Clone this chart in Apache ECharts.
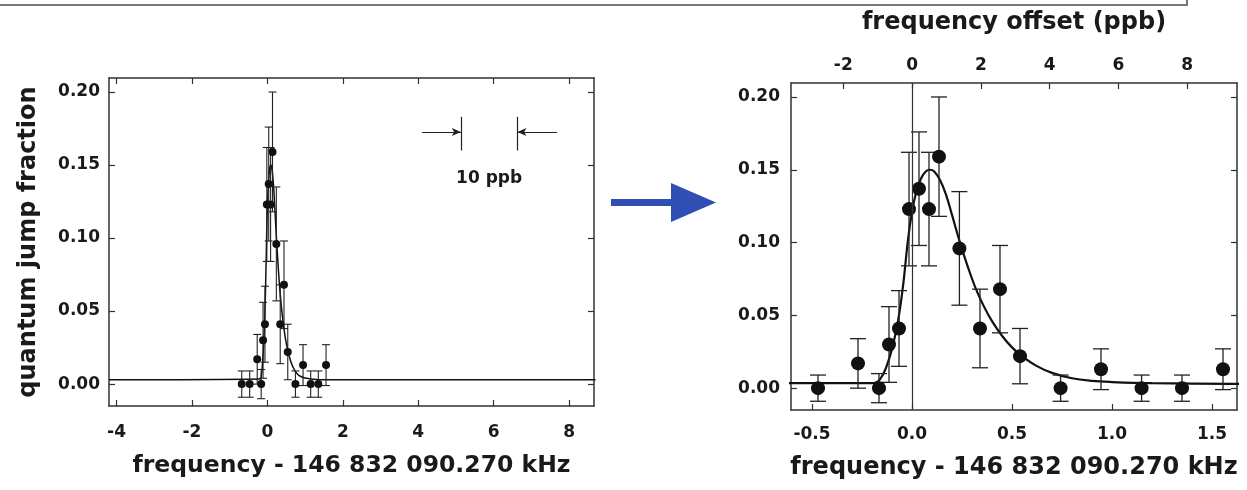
<!DOCTYPE html>
<html>
<head>
<meta charset="utf-8">
<script src="https://cdn.jsdelivr.net/npm/echarts@6/dist/echarts.min.js"></script>
<style>
html,body{margin:0;padding:0;background:#fff;}
#chart{width:1247px;height:490px;}
</style>
</head>
<body>
<div id="chart"></div>
<script>
// ---- data (kHz offset from 146 832 090.270 kHz) ----
const freq = [-0.68, -0.47, -0.27, -0.165, -0.115, -0.065, -0.015, 0.035, 0.085, 0.135, 0.237, 0.34, 0.44, 0.54, 0.743, 0.945, 1.148, 1.35, 1.555];
const frac = [0, 0, 0.017, 0, 0.030, 0.041, 0.123, 0.137, 0.123, 0.159, 0.096, 0.041, 0.068, 0.022, 0, 0.013, 0, 0, 0.013];
const errs = [0.009, 0.009, 0.017, 0.010, 0.026, 0.026, 0.039, 0.039, 0.039, 0.041, 0.039, 0.027, 0.030, 0.019, 0.009, 0.014, 0.009, 0.009, 0.014];
// fitted line shape
const fitX = [-4.2, -0.19, -0.16, -0.13, -0.10, -0.07, -0.045, -0.02, 0.0, 0.02, 0.045, 0.07, 0.09, 0.11, 0.14, 0.17, 0.20, 0.24, 0.28, 0.32, 0.36, 0.40, 0.45, 0.50, 0.55, 0.62, 0.70, 0.80, 0.90, 1.0, 1.2, 1.6, 8.7];
const fitY = [0.003, 0.0035, 0.006, 0.014, 0.027, 0.046, 0.070, 0.102, 0.121, 0.134, 0.144, 0.149, 0.150, 0.149, 0.143, 0.133, 0.119, 0.100, 0.083, 0.068, 0.056, 0.046, 0.036, 0.028, 0.022, 0.0155, 0.0105, 0.0068, 0.005, 0.0042, 0.0034, 0.003, 0.003];
// tick labels
const yTicks = [0, 0.05, 0.10, 0.15, 0.20];
const xTicksWide = [-4, -2, 0, 2, 4, 6, 8];
const xTicksZoom = [-0.5, 0, 0.5, 1.0, 1.5];
const ppbTicks = [-2, 0, 2, 4, 6, 8];
// annotation "10 ppb" (in left-panel kHz units)
const scaleBarX = [5.13, 6.63];
const scaleBarLabel = '10 ppb';

const TXT = '#1a1a1a', AX = '#2b3338';
const FONT = 'DejaVu Sans';

const pts = freq.map((f, i) => [f, frac[i]]);
const errData = freq.map((f, i) => [f, frac[i] - errs[i], frac[i] + errs[i]]);
const fitData = fitX.map((x, i) => [x, fitY[i]]);

function errRender(capW, lw) {
  return function (params, api) {
    const x = api.value(0), lo = api.value(1), hi = api.value(2);
    const a = api.coord([x, lo]), b = api.coord([x, hi]);
    const h = capW / 2;
    const st = { stroke: '#222', lineWidth: lw };
    return {
      type: 'group', children: [
        { type: 'line', shape: { x1: a[0], y1: a[1], x2: b[0], y2: b[1] }, style: st },
        { type: 'line', shape: { x1: b[0] - h, y1: b[1], x2: b[0] + h, y2: b[1] }, style: st },
        { type: 'line', shape: { x1: a[0] - h, y1: a[1], x2: a[0] + h, y2: a[1] }, style: st }
      ]
    };
  };
}

function baseAxis(extra) {
  return Object.assign({
    type: 'value',
    axisLine: { show: true, onZero: false, lineStyle: { color: AX, width: 1.5 } },
    axisTick: { show: true, inside: true, length: 6, lineStyle: { color: AX, width: 1.2 } },
    splitLine: { show: false },
    axisLabel: { show: false }
  }, extra);
}
function lbl(vals, dec, size, margin) {
  return {
    show: true, customValues: vals, margin: margin, color: TXT,
    fontFamily: FONT, fontWeight: 'bold', fontSize: size,
    formatter: v => dec == null ? String(v) : Number(v).toFixed(dec)
  };
}
function tk(vals) {
  return { show: true, inside: true, length: 6, customValues: vals, lineStyle: { color: AX, width: 1.2 } };
}
const titleStyle = { color: TXT, fontFamily: FONT, fontWeight: 'bold', fontSize: 24 };

const yMin = -0.015, yMax = 0.2096;

const option = {
  backgroundColor: '#fff',
  animation: false,
  grid: [
    { left: 109, top: 78, width: 485, height: 328 },
    { left: 791, top: 83, width: 446, height: 327 }
  ],
  xAxis: [
    baseAxis({ gridIndex: 0, position: 'bottom', min: -4.2, max: 8.66,
      axisLabel: lbl(xTicksWide, null, 17, 18), axisTick: tk(xTicksWide),
      name: 'frequency - 146 832 090.270 kHz', nameLocation: 'middle', nameGap: 48,
      nameTextStyle: Object.assign({}, titleStyle, { fontSize: 23.5 }) }),
    baseAxis({ gridIndex: 0, position: 'top', min: -4.2, max: 8.66, axisTick: tk(xTicksWide) }),
    baseAxis({ gridIndex: 1, position: 'bottom', min: -0.605, max: 1.625,
      axisLabel: lbl(xTicksZoom, 1, 17, 16), axisTick: tk(xTicksZoom),
      name: 'frequency - 146 832 090.270 kHz', nameLocation: 'middle', nameGap: 46,
      nameTextStyle: titleStyle }),
    baseAxis({ gridIndex: 1, position: 'top', min: -3.52, max: 9.45,
      axisLabel: lbl(ppbTicks, null, 17, 9), axisTick: tk(ppbTicks),
      name: 'frequency offset (ppb)', nameLocation: 'middle', nameGap: 48,
      nameTextStyle: titleStyle })
  ],
  yAxis: [
    baseAxis({ gridIndex: 0, position: 'left', min: yMin, max: yMax,
      axisLabel: lbl(yTicks, 2, 17, 9), axisTick: tk(yTicks),
      name: 'quantum jump fraction', nameLocation: 'middle', nameGap: 68, nameRotate: 90,
      nameTextStyle: titleStyle }),
    baseAxis({ gridIndex: 0, position: 'right', min: yMin, max: yMax, axisTick: tk(yTicks) }),
    baseAxis({ gridIndex: 1, position: 'left', min: yMin, max: yMax,
      axisLabel: lbl(yTicks, 2, 17, 11), axisTick: tk(yTicks) }),
    baseAxis({ gridIndex: 1, position: 'right', min: yMin, max: yMax, axisTick: tk(yTicks) })
  ],
  series: [
    // left panel
    { type: 'line', xAxisIndex: 0, yAxisIndex: 0, data: fitData, showSymbol: false, smooth: 0.4,
      lineStyle: { color: '#111', width: 1.5 }, silent: true, z: 2,
      markLine: {
        silent: true, symbol: ['none', 'arrow'], symbolSize: [6, 9], label: { show: false },
        lineStyle: { color: '#222', width: 1.2, type: 'solid' },
        data: [
          [{ coord: [scaleBarX[0] - 1.03, 0.1726] }, { coord: [scaleBarX[0], 0.1726] }],
          [{ coord: [scaleBarX[1] + 1.05, 0.1726] }, { coord: [scaleBarX[1], 0.1726] }],
          [{ coord: [scaleBarX[0], 0.183], symbol: 'none' }, { coord: [scaleBarX[0], 0.160], symbol: 'none' }],
          [{ coord: [scaleBarX[1], 0.183], symbol: 'none' }, { coord: [scaleBarX[1], 0.160], symbol: 'none' }]
        ]
      },
      markPoint: {
        silent: true, symbol: 'circle', symbolSize: 1, itemStyle: { color: 'rgba(0,0,0,0)' },
        label: { show: true, position: 'inside', formatter: scaleBarLabel, color: TXT, fontFamily: FONT, fontWeight: 'bold', fontSize: 17 },
        data: [{ coord: [(scaleBarX[0] + scaleBarX[1]) / 2, 0.141] }]
      }
    },
    { type: 'custom', xAxisIndex: 0, yAxisIndex: 0, data: errData, renderItem: errRender(8, 1.1), clip: true, silent: true, z: 3,
      encode: { x: 0, y: [1, 2] } },
    { type: 'scatter', xAxisIndex: 0, yAxisIndex: 0, data: pts, symbolSize: 8, itemStyle: { color: '#111', opacity: 1 }, silent: true, z: 4 },
    // right panel
    { type: 'line', xAxisIndex: 2, yAxisIndex: 2, data: fitData, showSymbol: false, smooth: 0.4,
      lineStyle: { color: '#111', width: 2.2 }, silent: true, z: 2,
      markLine: {
        silent: true, symbol: 'none', label: { show: false },
        lineStyle: { color: AX, width: 1.2, type: 'solid' },
        data: [{ xAxis: 0 }]
      }
    },
    { type: 'custom', xAxisIndex: 2, yAxisIndex: 2, data: errData, renderItem: errRender(16, 1.3), clip: true, silent: true, z: 3,
      encode: { x: 0, y: [1, 2] } },
    { type: 'scatter', xAxisIndex: 2, yAxisIndex: 2, data: pts, symbolSize: 14, itemStyle: { color: '#111', opacity: 1 }, silent: true, z: 4, clip: true }
  ],
  graphic: [
    { type: 'polyline', shape: { points: [[0, 5], [1187, 5], [1187, 0]] }, style: { stroke: '#777', lineWidth: 2, fill: null } },
    { type: 'rect', shape: { x: 611, y: 199, width: 64, height: 7 }, style: { fill: '#2f4fb5' } },
    { type: 'polygon', shape: { points: [[671, 183], [716, 202.5], [671, 222]] }, style: { fill: '#2f4fb5' } }
  ]
};

const chart = echarts.init(document.getElementById('chart'), null, { renderer: 'canvas' });
chart.setOption(option);
</script>
</body>
</html>
